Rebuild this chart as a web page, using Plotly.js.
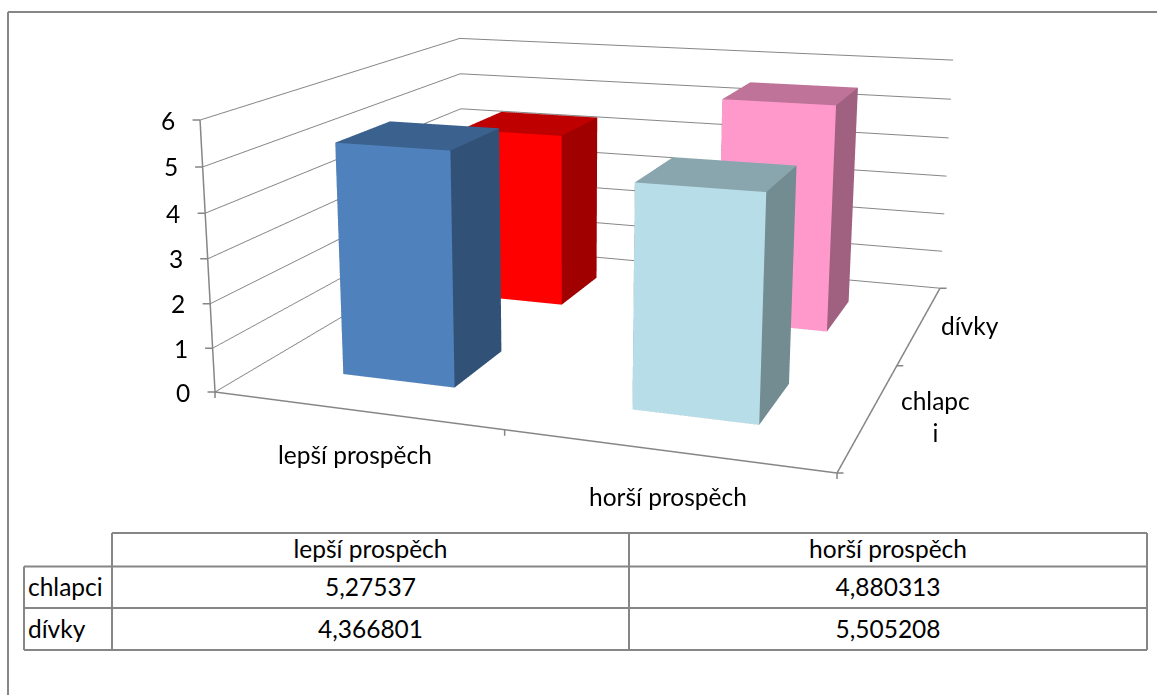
<!DOCTYPE html>
<html>
<head>
<meta charset="utf-8">
<script src="https://cdn.plot.ly/plotly-3.0.1.min.js"></script>
<style>
html,body{margin:0;padding:0;width:1157px;height:695px;overflow:hidden;background:#fff}
#chart{position:absolute;left:-150px;top:-451px}
</style>
</head>
<body>
<div id="chart"></div>
<script>
const categories = ['lepší prospěch', 'horší prospěch'];
const seriesNames = ['chlapci', 'dívky'];
const chlapci = [5.27537, 4.880313];
const divky = [4.366801, 5.505208];
const valueTicks = [0, 1, 2, 3, 4, 5, 6];
const categoryTicks = [0, 1, 2];
const seriesTicks = [0, 1, 2];
const frontColors = [['#4F81BD', '#B7DEE8'], ['#FF0000', '#FF99CC']];
const topColors = [['#3B618E', '#89A6AE'], ['#BF0000', '#BF7399']];
const sideColors = [['#325177', '#738C92'], ['#A00000', '#A06080']];

const FONT = 'Lato, Carlito, sans-serif';
const FONT_SIZE = 24.5;
const INK = '#000000';
const RULE = '#868686';

// The figure is larger than the window so the 3D view gets a long focal length
const OFFSET_X = 150, OFFSET_Y = 451, FIG_W = 1334, FIG_H = 1422;
const fx = px => (px + OFFSET_X) / FIG_W;
const fy = py => 1 - (py + OFFSET_Y) / FIG_H;

// One cuboid per category/series pair, with separately coloured faces
const BAR_HALF = 0.2, BAR_NUDGE = 0.005;
function barTrace(c, s, value) {
  const x0 = c + 0.5 + BAR_NUDGE - BAR_HALF, x1 = c + 0.5 + BAR_NUDGE + BAR_HALF;
  const y0 = s + 0.5 - BAR_HALF, y1 = s + 0.5 + BAR_HALF;
  const X = [x0, x1, x1, x0, x0, x1, x1, x0];
  const Y = [y0, y0, y1, y1, y0, y0, y1, y1];
  const Z = [0, 0, 0, 0, value, value, value, value];
  const quads = [
    [0, 1, 5, 4, frontColors[s][c]],
    [4, 5, 6, 7, topColors[s][c]],
    [1, 2, 6, 5, sideColors[s][c]],
    [2, 3, 7, 6, sideColors[s][c]],
    [3, 0, 4, 7, sideColors[s][c]],
    [0, 3, 2, 1, sideColors[s][c]]
  ];
  const i = [], j = [], k = [], facecolor = [];
  quads.forEach(q => {
    i.push(q[0], q[0]); j.push(q[1], q[2]); k.push(q[2], q[3]);
    facecolor.push(q[4], q[4]);
  });
  return {
    type: 'mesh3d', x: X, y: Y, z: Z, i, j, k, facecolor,
    flatshading: true, showscale: false, hoverinfo: 'skip',
    lighting: {ambient: 1, diffuse: 0, specular: 0, fresnel: 0, roughness: 1},
    lightposition: {x: 0, y: 0, z: 1000}
  };
}
const seriesValues = [chlapci, divky];
const traces = [];
seriesValues.forEach((vals, s) => vals.forEach((v, c) => traces.push(barTrace(c, s, v))));

// Floor edges and value axis that stay visible in front of the walls
traces.push({
  type: 'scatter3d', mode: 'lines', hoverinfo: 'skip', showlegend: false,
  x: [0, 0, 2, 2], y: [0, 0, 0, 2], z: [6, 0, 0, 0],
  line: {color: RULE, width: 3}
});

// Table text lives in the trace; its rules are drawn separately below
const fmt = v => String(v).replace('.', ',');
traces.push({
  type: 'table',
  domain: {x: [fx(20), fx(1147)], y: [fy(660), fy(532)]},
  columnwidth: [92, 517, 518],
  header: {
    values: [''].concat(categories),
    height: 38,
    align: 'center',
    fill: {color: 'rgba(0,0,0,0)'},
    line: {color: 'rgba(0,0,0,0)', width: 0},
    font: {family: FONT, size: FONT_SIZE, color: INK}
  },
  cells: {
    values: [seriesNames,
      seriesValues.map(v => fmt(v[0])),
      seriesValues.map(v => fmt(v[1]))],
    height: 41.5,
    align: ['left', 'center', 'center'],
    fill: {color: 'rgba(0,0,0,0)'},
    line: {color: 'rgba(0,0,0,0)', width: 0},
    font: {family: FONT, size: FONT_SIZE, color: INK}
  }
});

const paperLine = (x0, y0, x1, y1) => ({
  type: 'line', xref: 'paper', yref: 'paper',
  x0: fx(x0), x1: fx(x1), y0: fy(y0), y1: fy(y1),
  line: {color: RULE, width: 2}
});
const tableRules = [
  paperLine(112, 533, 1147, 533),
  paperLine(24, 566.5, 1147, 566.5),
  paperLine(24, 608, 1147, 608),
  paperLine(24, 650, 1147, 650),
  paperLine(24, 566.5, 24, 650),
  paperLine(112, 533, 112, 650),
  paperLine(629, 533, 629, 650),
  paperLine(1147, 533, 1147, 650)
];

const axisBase = {
  showbackground: false, showspikes: false, zeroline: false, showline: false,
  showticklabels: false, title: {text: ''}, autorange: false,
  ticks: '', tickmode: 'linear'
};
const textFont = {family: FONT, size: FONT_SIZE, color: INK};
const label3d = (x, y, z, text, xanchor, xshift, yshift) => ({
  x, y, z, text, showarrow: false, xanchor, yanchor: 'middle', xshift, yshift, font: textFont
});
// A tick mark is a headless arrow anchored on a data point
const tick3d = (x, y, z, ax, ay) => ({
  x, y, z, text: ' ', showarrow: true, arrowhead: 0, arrowwidth: 1.5, arrowcolor: RULE,
  standoff: 0, startstandoff: 0, ax, ay, font: {size: 1}
});
const annotations = valueTicks.map(v => label3d(0, 0, v, String(v), 'right', -23, 0));
annotations.push(label3d(0.5, 0, 0, categories[0], 'center', 0, -44));
annotations.push(label3d(1.5, 0, 0, categories[1], 'center', 3, -46));
annotations.push(label3d(2, 0.5, 0, 'chlapc<br>i', 'center', 66, -2));
annotations.push(label3d(2, 1.5, 0, seriesNames[1], 'center', 50, -1));
categoryTicks.forEach(t => annotations.push(tick3d(t, 0, 0, 0, 8)));
seriesTicks.forEach(t => annotations.push(tick3d(2, t, 0, 8, 0)));
valueTicks.forEach(v => annotations.push(tick3d(0, 0, v, -9, 0)));

const layout = {
  width: FIG_W, height: FIG_H, autosize: false,
  margin: {l: 0, r: 0, t: 0, b: 0, pad: 0},
  paper_bgcolor: '#ffffff', showlegend: false,
  font: {family: FONT},
  scene: {
    domain: {x: [0, 1], y: [0, 1]},
    bgcolor: 'rgba(0,0,0,0)',
    aspectmode: 'manual',
    aspectratio: {x: 0.9861, y: 1, z: 0.4354},
    camera: {
      projection: {type: 'perspective'},
      eye: {x: 0.8933, y: -2.7191, z: 0.6722},
      center: {x: -0.1441, y: -0.0780, z: -0.0755},
      up: {x: -0.0861, y: 0.2401, z: 0.967}
    },
    xaxis: Object.assign({}, axisBase, {range: [0, 2], tick0: 0, dtick: 1, showgrid: false}),
    yaxis: Object.assign({}, axisBase, {range: [0, 2], tick0: 0, dtick: 1, showgrid: false}),
    zaxis: Object.assign({}, axisBase, {range: [0, 6], tick0: 0, dtick: 1, showgrid: true, gridcolor: RULE, gridwidth: 2}),
    annotations
  },
  shapes: [
    paperLine(8, 12, 8, 695),
    paperLine(8, 12, 1157, 12)
  ].concat(tableRules)
};
Plotly.newPlot('chart', traces, layout, {displayModeBar: false, staticPlot: false, responsive: false});
</script>
</body>
</html>
